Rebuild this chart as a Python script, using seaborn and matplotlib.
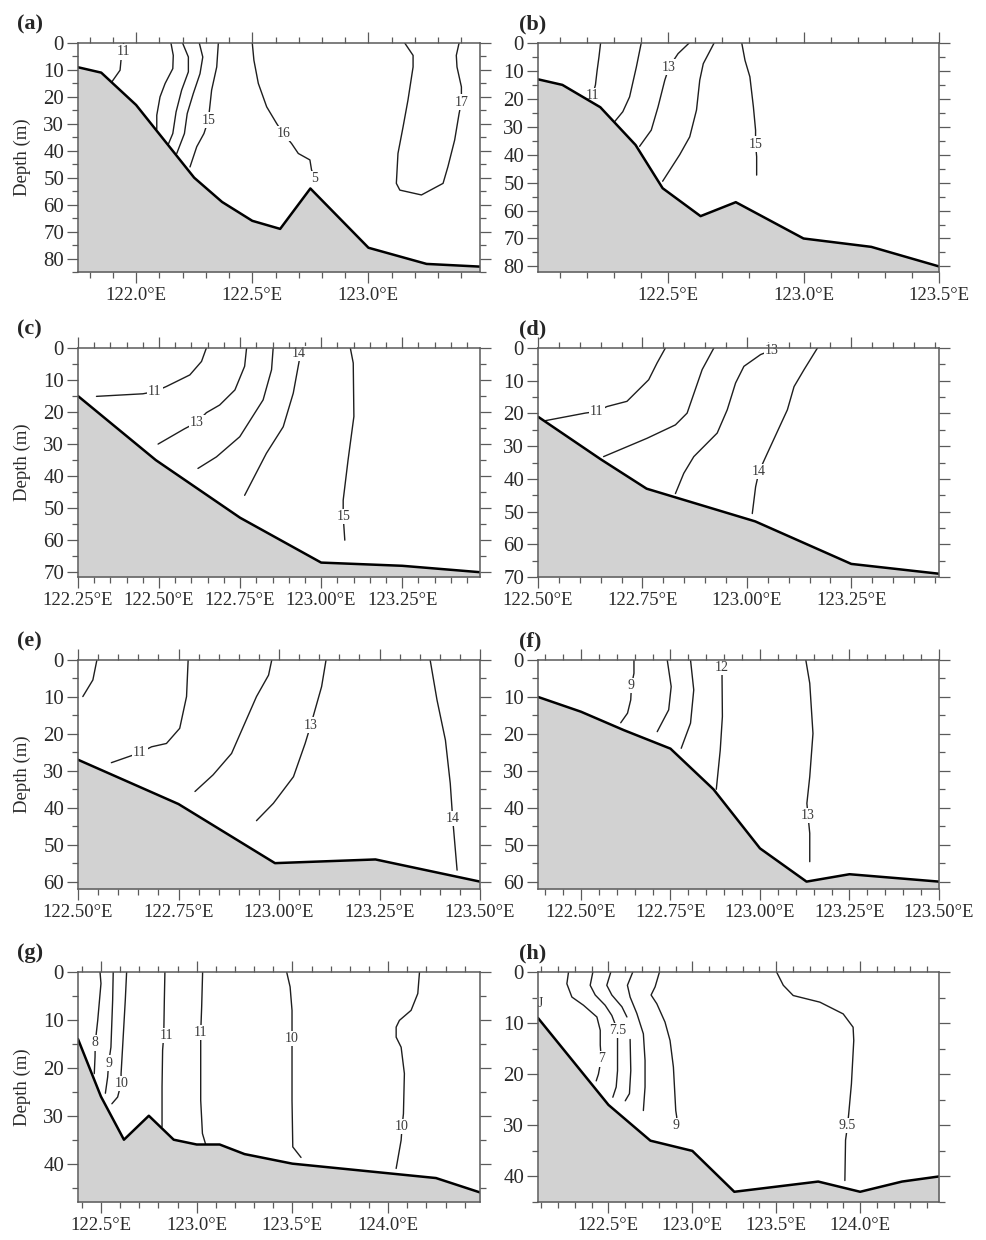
import numpy as np
import pandas as pd
import matplotlib
matplotlib.use("Agg")
import matplotlib.pyplot as plt
from matplotlib.ticker import MultipleLocator, FuncFormatter
import seaborn as sns

# ---------------- data (lon in degrees E, depth in m) ----------------
# (a)
A_BATH_LON = [121.75, 121.85, 122.0, 122.25, 122.37, 122.5, 122.62, 122.75, 123.0, 123.25, 123.48]
A_BATH_DEP = [9, 11, 23, 50, 59, 66, 69, 54, 76, 82, 83]
A_ISO = [
    [(121.946, 0), (121.944, 3.3), (121.935, 6.4), (121.931, 10.1), (121.895, 14.5)],
    [(122.15, 0), (122.16, 4.6), (122.158, 9.5), (122.125, 15), (122.103, 20), (122.089, 26.8), (122.089, 32)],
    [(122.2, 0), (122.225, 5.2), (122.225, 10.7), (122.196, 17.5), (122.172, 25.6), (122.158, 33.6), (122.139, 37.5)],
    [(122.272, 0), (122.287, 5.2), (122.275, 11.4), (122.246, 18.8), (122.22, 26.2), (122.208, 33.6), (122.175, 41)],
    [(122.354, 0), (122.347, 8.9), (122.325, 17.5), (122.311, 28.6), (122.292, 33.6), (122.261, 38.5), (122.232, 46)],
    [(122.5, 0), (122.507, 6.4), (122.526, 15), (122.562, 23.7), (122.605, 29.9), (122.633, 33.6), (122.669, 37.3),
     (122.698, 41), (122.748, 43.4), (122.755, 47.1), (122.77, 50.2)],
    [(123.156, 0), (123.192, 4.6), (123.192, 8.9), (123.17, 21.2), (123.149, 31.1), (123.127, 41), (123.12, 52.1),
     (123.135, 54.6), (123.228, 56.4), (123.321, 52.1), (123.342, 45.9), (123.371, 36), (123.39, 26.2),
     (123.4, 21.9), (123.4, 16.3), (123.381, 8.9), (123.378, 4.6), (123.39, 0)],
]
A_LABELS = [("11", 121.944, 3.3), ("15", 122.311, 28.6), ("16", 122.633, 33.6), ("5", 122.769, 50.2), ("17", 123.4, 21.9)]

# (b)
B_BATH_LON = [122.02, 122.11, 122.25, 122.38, 122.48, 122.62, 122.75, 123.0, 123.25, 123.5]
B_BATH_DEP = [13, 15, 23, 36.5, 52, 62, 57, 70, 73, 80]
B_ISO = [
    [(122.251, 0), (122.245, 5), (122.238, 10), (122.232, 15), (122.222, 18.7)],
    [(122.401, 0), (122.383, 8.6), (122.358, 19.3), (122.333, 24.6), (122.3, 28.5)],
    [(122.578, 0), (122.537, 3.8), (122.504, 8.6), (122.488, 13.3), (122.463, 22.9), (122.438, 31.2), (122.395, 37)],
    [(122.67, 0), (122.63, 7.4), (122.617, 13.3), (122.605, 24), (122.58, 33.6), (122.543, 40), (122.48, 49.5)],
    [(122.772, 0), (122.784, 6.2), (122.802, 12.1), (122.815, 22.9), (122.823, 31.2), (122.823, 36.2),
     (122.827, 40.7), (122.827, 47.3)],
]
B_LABELS = [("11", 122.222, 18.7), ("13", 122.504, 8.6), ("15", 122.823, 36.2)]

# (c)
C_BATH_LON = [122.25, 122.49, 122.75, 123.0, 123.25, 123.49]
C_BATH_DEP = [15, 35, 53, 67, 68, 70]
C_ISO = [
    [(122.646, 0), (122.631, 4.2), (122.595, 8.4), (122.523, 12), (122.487, 13.6), (122.45, 14.3), (122.307, 15.1)],
    [(122.77, 0), (122.764, 5.7), (122.734, 13.1), (122.687, 17.8), (122.646, 20.2), (122.617, 23.2),
     (122.579, 25.2), (122.497, 30)],
    [(122.852, 0), (122.847, 6.8), (122.821, 16.2), (122.749, 27.7), (122.677, 34), (122.62, 37.6)],
    [(122.932, 0), (122.932, 4.2), (122.914, 14.1), (122.883, 24.6), (122.831, 32.9), (122.764, 46)],
    [(123.09, 0), (123.099, 4.7), (123.101, 21.4), (123.083, 35), (123.068, 47.5), (123.068, 52.6), (123.073, 60)],
]
C_LABELS = [("11", 122.487, 13.6), ("13", 122.617, 23.2), ("14", 122.932, 1.8), ("15", 123.068, 52.6)]

# (d)
D_BATH_LON = [122.5, 122.65, 122.76, 123.02, 123.25, 123.46]
D_BATH_DEP = [21, 34, 43, 53, 66, 69]
D_ISO = [
    [(122.805, 0), (122.785, 4.6), (122.765, 9.7), (122.713, 16.3), (122.665, 17.9), (122.641, 19.4),
     (122.613, 19.9), (122.518, 22.2)],
    [(122.921, 0), (122.893, 6.6), (122.857, 19.9), (122.829, 23.5), (122.761, 27.6), (122.657, 33.2)],
    [(123.057, 0.8), (123.033, 2), (122.993, 5.6), (122.973, 10.7), (122.953, 18.9), (122.929, 26),
     (122.873, 33.2), (122.849, 38.3), (122.829, 44.5)],
    [(123.169, 0), (123.137, 6.6), (123.113, 11.8), (123.097, 18.9), (123.049, 32.2), (123.029, 37.8),
     (123.021, 42.4), (123.013, 50.6)],
]
D_LABELS = [("11", 122.641, 19.4), ("13", 123.06, 0.9), ("14", 123.029, 37.8)]

# (e)
E_BATH_LON = [122.5, 122.75, 122.99, 123.24, 123.5]
E_BATH_DEP = [27, 39, 55, 54, 60]
E_ISO = [
    [(122.547, 0), (122.537, 5.4), (122.512, 9.9)],
    [(122.774, 0), (122.77, 9.9), (122.753, 18.5), (122.72, 22.6), (122.683, 23.5), (122.654, 25.1), (122.583, 27.8)],
    [(122.982, 0), (122.974, 4.1), (122.944, 9.9), (122.915, 17.1), (122.882, 25.3), (122.836, 31.1), (122.791, 35.6)],
    [(123.117, 0), (123.106, 7.2), (123.079, 17.6), (123.065, 22.6), (123.036, 31.6), (122.986, 38.8), (122.944, 43.5)],
    [(123.376, 0), (123.393, 10.8), (123.414, 21.7), (123.426, 33.4), (123.432, 42.9), (123.443, 56.9)],
]
E_LABELS = [("11", 122.654, 25.1), ("13", 123.079, 17.6), ("14", 123.432, 42.9)]

# (f)
F_BATH_LON = [122.38, 122.5, 122.62, 122.75, 122.87, 123.0, 123.13, 123.25, 123.5]
F_BATH_DEP = [10, 14, 19, 24, 35, 51, 60, 58, 60]
F_ISO = [
    [(122.648, 0), (122.648, 3.6), (122.641, 7), (122.639, 10.8), (122.63, 14.4), (122.611, 17)],
    [(122.741, 0), (122.752, 7.2), (122.745, 13.5), (122.713, 19.4)],
    [(122.806, 0), (122.815, 8.1), (122.806, 17.1), (122.78, 23.9)],
    [(122.894, 2.1), (122.894, 4.5), (122.895, 15.3), (122.889, 24.4), (122.878, 35)],
    [(123.128, 0), (123.139, 6.3), (123.148, 19.9), (123.139, 31.6), (123.131, 38.8), (123.134, 42),
     (123.139, 46.9), (123.139, 54.6)],
]
F_LABELS = [("9", 122.641, 7), ("12", 122.894, 2.1), ("13", 123.134, 42)]

# (g)
G_BATH_LON = [122.38, 122.5, 122.62, 122.75, 122.88, 123.0, 123.12, 123.25, 123.5, 124.25, 124.48]
G_BATH_DEP = [14, 26, 35, 30, 35, 36, 36, 38, 40, 43, 46]
G_ISO = [
    [(122.495, 0), (122.5, 2.4), (122.483, 10.1), (122.47, 14.8), (122.469, 17.7), (122.465, 21.2)],
    [(122.564, 0), (122.561, 5.9), (122.552, 15.7), (122.54, 19), (122.535, 21.9), (122.523, 25.3)],
    [(122.634, 0), (122.627, 5.9), (122.613, 15.7), (122.605, 21.2), (122.605, 23.3), (122.587, 26.1), (122.557, 27.5)],
    [(122.834, 0), (122.831, 5.9), (122.828, 13.2), (122.822, 16.3), (122.819, 24), (122.819, 32.3)],
    [(123.031, 0), (123.026, 7.3), (123.021, 12.7), (123.021, 15.7), (123.021, 26.8), (123.03, 33.7), (123.047, 36)],
    [(123.47, 0), (123.488, 3.1), (123.498, 8), (123.498, 13.9), (123.498, 26.8), (123.502, 36.5), (123.545, 38.7)],
    [(124.164, 0), (124.155, 4.5), (124.12, 8), (124.059, 10.1), (124.042, 11.5), (124.042, 13.6), (124.068, 15.7),
     (124.085, 21.2), (124.08, 29.6), (124.073, 32.2), (124.068, 35.1), (124.042, 41)],
]
G_LABELS = [("8", 122.47, 14.8), ("9", 122.54, 19), ("10", 122.607, 23.3), ("11", 122.84, 13.2),
            ("11", 123.021, 12.7), ("10", 123.498, 13.9), ("10", 124.073, 32.2)]

# (h)
H_BATH_LON = [122.08, 122.5, 122.75, 123.0, 123.25, 123.75, 124.0, 124.25, 124.47]
H_BATH_DEP = [9, 26, 33, 35, 43, 41, 43, 41, 40]
H_ISO = [
    [(122.262, 0), (122.252, 2.3), (122.282, 4.9), (122.351, 6.5), (122.431, 8.8), (122.451, 11.4),
     (122.451, 14.3), (122.457, 17), (122.44, 20), (122.427, 21.3)],
    [(122.407, 0), (122.391, 2.6), (122.421, 4.5), (122.48, 6.5), (122.52, 8.5), (122.554, 11.4),
     (122.554, 13.7), (122.554, 19.3), (122.546, 22.5), (122.526, 24.5)],
    [(122.514, 0), (122.49, 2.6), (122.52, 4.5), (122.58, 6.8), (122.61, 8.8)],
    [(122.629, 13.2), (122.633, 19.3), (122.625, 23.8), (122.6, 25.2)],
    [(122.645, 0), (122.613, 2.6), (122.629, 4.9), (122.669, 8.1), (122.708, 12.1), (122.718, 17.3),
     (122.718, 22.5), (122.708, 27.1)],
    [(122.804, 0), (122.778, 2.9), (122.754, 4.5), (122.788, 6.2), (122.837, 9.8), (122.867, 13.4),
     (122.887, 18.6), (122.901, 27.1), (122.907, 28.4), (122.903, 30)],
    [(123.502, 0), (123.542, 2.6), (123.601, 4.6), (123.76, 5.9), (123.899, 8.2), (123.958, 10.8),
     (123.962, 13.4), (123.948, 21.9), (123.932, 27.7), (123.925, 30), (123.913, 32.9), (123.909, 40.8)],
]
H_LABELS = [("J", 122.095, 6.1), ("7", 122.457, 17), ("7.5", 122.554, 11.4), ("9", 122.903, 30), ("9.5", 123.925, 30)]

# ---------------- figure ----------------
sns.set_style("ticks")
plt.rcParams["font.family"] = ["Liberation Serif", "DejaVu Serif"]

W, H = 987, 1240
fig = plt.figure(figsize=(W / 100, H / 100), dpi=100)

panels = [
    ("(a)", A_BATH_LON, A_BATH_DEP, A_ISO, A_LABELS, (121.75, 123.48), 85, 0.5, 0.1, 1, (78, 43, 480, 272), True),
    ("(b)", B_BATH_LON, B_BATH_DEP, B_ISO, B_LABELS, (122.02, 123.5), 82, 0.5, 0.1, 1, (538, 43, 939, 272), False),
    ("(c)", C_BATH_LON, C_BATH_DEP, C_ISO, C_LABELS, (122.25, 123.49), 71.5, 0.25, 0.05, 2, (78, 348, 480, 577), True),
    ("(d)", D_BATH_LON, D_BATH_DEP, D_ISO, D_LABELS, (122.5, 123.46), 70, 0.25, 0.05, 2, (538, 348, 939, 577), False),
    ("(e)", E_BATH_LON, E_BATH_DEP, E_ISO, E_LABELS, (122.5, 123.5), 62, 0.25, 0.05, 2, (78, 660, 480, 889), True),
    ("(f)", F_BATH_LON, F_BATH_DEP, F_ISO, F_LABELS, (122.38, 123.5), 62, 0.25, 0.05, 2, (538, 660, 939, 889), False),
    ("(g)", G_BATH_LON, G_BATH_DEP, G_ISO, G_LABELS, (122.38, 124.48), 48, 0.5, 0.1, 1, (78, 972, 480, 1202), True),
    ("(h)", H_BATH_LON, H_BATH_DEP, H_ISO, H_LABELS, (122.08, 124.47), 45, 0.5, 0.1, 1, (538, 972, 939, 1202), False),
]

FRAME = "#5a5a5a"
for tag, blon, bdep, isos, labels, xlim, ymax, major, minor, dec, (x0, y0, x1, y1), left in panels:
    ax = fig.add_axes([x0 / W, 1 - y1 / H, (x1 - x0) / W, (y1 - y0) / H])
    # isolines
    for seg in isos:
        df = pd.DataFrame(seg, columns=["lon", "dep"])
        sns.lineplot(data=df, x="lon", y="dep", sort=False, estimator=None, color="#1e1e1e",
                     lw=1.0, ax=ax, zorder=2)
    for txt, lx, ly in labels:
        ax.text(lx, ly, txt, fontsize=10, color="#3a3a3a", ha="center", va="center", zorder=2.3,
                bbox=dict(boxstyle="square,pad=0.08", fc="white", ec="none"))
    # bathymetry
    ax.fill_between(blon, bdep, ymax, color="#d2d2d2", lw=0, zorder=4)
    bdf = pd.DataFrame({"lon": blon, "dep": bdep})
    sns.lineplot(data=bdf, x="lon", y="dep", sort=False, estimator=None, color="black", lw=1.8,
                 ax=ax, zorder=5)

    ax.set_xlim(*xlim)
    ax.set_ylim(ymax, 0)
    ax.xaxis.set_major_locator(MultipleLocator(major))
    ax.xaxis.set_minor_locator(MultipleLocator(minor))
    ax.yaxis.set_major_locator(MultipleLocator(10))
    ax.yaxis.set_minor_locator(MultipleLocator(5))
    ax.xaxis.set_major_formatter(FuncFormatter(lambda v, p, d=dec: f"{v:.{d}f}°E"))
    ax.yaxis.set_major_formatter(FuncFormatter(lambda v, p: f"{v:.0f}"))
    ax.tick_params(which="both", direction="out", top=True, right=True, color=FRAME, width=0.9)
    ax.tick_params(which="major", length=8, pad=3, labelcolor="#2a2a2a")
    ax.tick_params(axis="x", which="major", labelsize=13.5)
    ax.tick_params(axis="y", which="major", labelsize=15, pad=2)
    ax.tick_params(which="minor", length=4)
    for s in ax.spines.values():
        s.set_color(FRAME)
        s.set_linewidth(1.1)
        s.set_zorder(6)
    ax.set_xlabel("")
    if left:
        ax.set_ylabel("Depth (m)", fontsize=13.5, color="#2a2a2a")
        ax.yaxis.set_label_coords(-0.117, 0.5)
    else:
        ax.set_ylabel("")
    lx = 17 if left else 519
    fig.text(lx / W, 1 - (y0 - 19) / H, tag, fontsize=16, fontweight="bold", ha="left", va="center")

fig.savefig("out.png", dpi=100)
